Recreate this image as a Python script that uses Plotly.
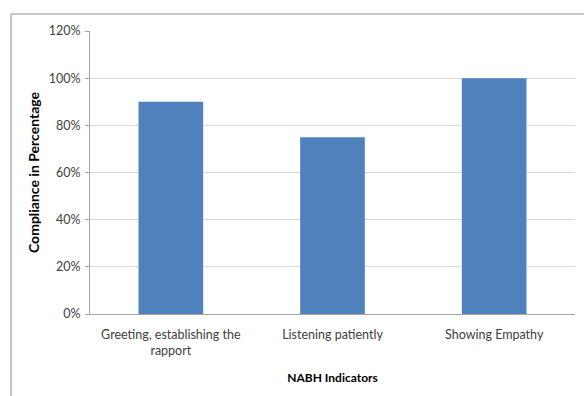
import plotly.graph_objects as go

categories = ["Greeting, establishing the<br>rapport", "Listening patiently", "Showing Empathy"]
values = [90, 75, 100]
y_ticks = [0, 20, 40, 60, 80, 100, 120]
y_tick_labels = [f"{v}%" for v in y_ticks]

fig = go.Figure(go.Bar(x=categories, y=values, marker=dict(color="#4F81BD", line=dict(width=0))))

L, R, T, B = 90, 9, 31, 82
W, H = 584, 396
pw, ph = W - L - R, H - T - B

fig.update_layout(
    width=W, height=H,
    margin=dict(l=L, r=R, t=T, b=B),
    paper_bgcolor="white", plot_bgcolor="white",
    bargap=0.6,
    showlegend=False,
    font=dict(family="Lato, Carlito, sans-serif", size=12, color="#404040"),
    xaxis=dict(
        showline=True, linecolor="#A6A6A6", linewidth=1,
        ticks="", tickfont=dict(size=12.5, color="#404040"),
        ticklabelstandoff=9,
        title=dict(text="<b>NABH Indicators</b>", font=dict(size=12, color="#000000"), standoff=16),
    ),
    yaxis=dict(
        range=[0, 120], tickmode="array", tickvals=y_ticks, ticktext=y_tick_labels,
        showgrid=True, gridcolor="#D9D9D9", gridwidth=1,
        showline=True, linecolor="#A6A6A6", linewidth=1,
        ticks="outside", ticklen=4, tickcolor="#A6A6A6",
        tickfont=dict(size=12.5, color="#404040"),
        ticklabelstandoff=2,
        zeroline=False,
        title=dict(text="<b>Compliance in Percentage</b>", font=dict(size=14, color="#000000"), standoff=5),
    ),
    shapes=[dict(
        type="rect", xref="paper", yref="paper",
        x0=(11 - L) / pw, x1=(W + 10 - L) / pw,
        y0=(H - B - (H + 10)) / ph, y1=(H - B - 14) / ph,
        line=dict(color="#8C8C8C", width=1), fillcolor="rgba(0,0,0,0)", layer="below",
    )],
)

fig.write_html("out.html")
